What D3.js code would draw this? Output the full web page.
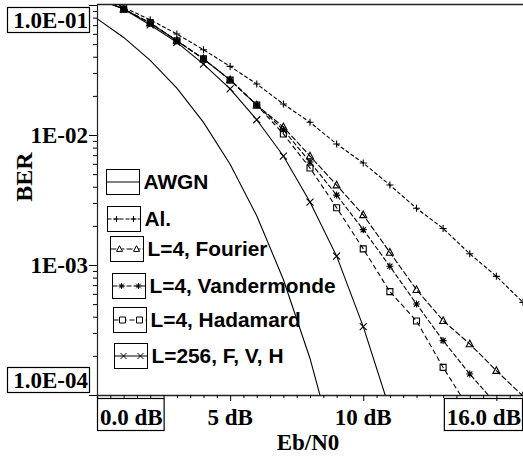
<html>
  <head>
    <meta charset="utf-8">
    <title>BER vs Eb/N0</title>
    <style>
      body { margin: 0; background: #fff; }
      .serif { font-family: 'Liberation Serif', 'Times New Roman', serif; font-weight: bold; }
      .sans { font-family: 'Liberation Sans', Arial, sans-serif; font-weight: bold; }
    </style>
  </head>
  <body>
    <script src="https://d3js.org/d3.v7.min.js"></script>
    <script>
      // Eb/N0 in dB, one point per dB
      var snr = [0, 1, 2, 3, 4, 5, 6, 7, 8, 9, 10, 11, 12, 13, 14, 15, 16];

      var awgn = [0.0786, 0.0563, 0.0375, 0.0229, 0.0125, 0.00595, 0.00239, 0.000773, 0.000191, 0.0000336];
      var al = [0.118, 0.0957, 0.0770, 0.0598, 0.0453, 0.0337, 0.0247, 0.0173, 0.01253, 0.00853,
                0.00609, 0.00412, 0.00273, 0.00191, 0.00122, 0.000818, 0.000516];
      var fourier = [0.113, 0.093, 0.0727, 0.0531, 0.0385, 0.0265, 0.0170, 0.01153, 0.00689, 0.00412,
                     0.00243, 0.00125, 0.000646, 0.000373, 0.000247, 0.000154, 0.000098];
      var vander = [0.113, 0.093, 0.0727, 0.0531, 0.0385, 0.0265, 0.0170, 0.01096, 0.00620, 0.00345,
                    0.00187, 0.000977, 0.000501, 0.000262, 0.000145, 0.000085];
      var hadamard = [0.113, 0.093, 0.0727, 0.0531, 0.0385, 0.0265, 0.0170, 0.01019, 0.00557, 0.00276,
                      0.00133, 0.000624, 0.000371, 0.000163, 0.000077];
      var l256 = [0.113, 0.093, 0.0702, 0.0516, 0.0351, 0.0226, 0.0131, 0.00689, 0.00305, 0.00117,
                  0.000336, 0.000077];

      var legendLabels = ["AWGN", "Al.", "L=4, Fourier", "L=4, Vandermonde", "L=4, Hadamard", "L=256, F, V, H"];
      var yTickLabels = ["1.0E-01", "1E-02", "1E-03", "1.0E-04"];
      var xTickLabels = ["0.0 dB", "5 dB", "10 dB", "16.0 dB"];

      var series = [
        { values: awgn, dash: null, marker: null },
        { values: al, dash: "4,2", marker: "plus" },
        { values: fourier, dash: "6,2", marker: "tri" },
        { values: vander, dash: "5,2", marker: "star" },
        { values: hadamard, dash: "5,3", marker: "square" },
        { values: l256, dash: null, marker: "cross" }
      ];

      var width = 523, height = 457;
      var pLeft = 97, pRight = 523, pTop = 5, pBottom = 395;

      var x = d3.scaleLinear().domain([0, 16]).range([pLeft, pRight]);
      var y = d3.scaleLog().domain([1e-4, 1e-1]).range([pBottom, pTop]);

      var svg = d3.select("body").append("svg")
        .attr("width", width)
        .attr("height", height);

      svg.append("defs").append("clipPath").attr("id", "plot")
        .append("rect")
        .attr("x", pLeft).attr("y", pTop)
        .attr("width", pRight - pLeft).attr("height", pBottom - pTop);

      // markers as path strings centred on 0,0
      function markerPath(type, s) {
        if (type == "plus") return "M" + (-s) + ",0H" + s + "M0," + (-s) + "V" + s;
        if (type == "cross") return "M" + (-s) + "," + (-s) + "L" + s + "," + s + "M" + (-s) + "," + s + "L" + s + "," + (-s);
        if (type == "star") {
          var d = s * 0.75;
          return "M" + (-s) + ",0H" + s + "M0," + (-s) + "V" + s +
            "M" + (-d) + "," + (-d) + "L" + d + "," + d + "M" + (-d) + "," + d + "L" + d + "," + (-d);
        }
        if (type == "square") return "M" + (-s) + "," + (-s) + "H" + s + "V" + s + "H" + (-s) + "Z";
        if (type == "tri") return "M0," + (-s * 1.1) + "L" + s + "," + s * 0.8 + "H" + (-s) + "Z";
        return "";
      }

      // axes
      var xAxis = d3.axisBottom(x)
        .tickValues(d3.range(0, 16.01, 0.5))
        .tickSize(3)
        .tickFormat("");
      svg.append("g")
        .attr("transform", "translate(0," + pBottom + ")")
        .call(xAxis)
        .call(function(g) {
          g.select(".domain").attr("stroke", "#222").attr("stroke-width", 1.5);
          g.selectAll(".tick line")
            .attr("y2", function(d) { return d % 5 == 0 ? 6 : 3; });
        });

      var yTicks = [];
      [1e-4, 1e-3, 1e-2].forEach(function(dec) {
        for (var k = 1; k < 10; k++) yTicks.push(dec * k);
      });
      yTicks.push(1e-1);
      var yAxis = d3.axisLeft(y)
        .tickValues(yTicks)
        .tickSize(4)
        .tickFormat("");
      svg.append("g")
        .attr("transform", "translate(" + pLeft + ",0)")
        .call(yAxis)
        .call(function(g) {
          g.select(".domain").attr("stroke", "#222").attr("stroke-width", 1.2);
          g.selectAll(".tick line")
            .attr("x2", function(d) {
              var m = d / Math.pow(10, Math.floor(Math.log10(d) + 1e-9));
              return Math.abs(m - 1) < 1e-6 ? -8 : -4;
            });
        });

      // top frame line
      svg.append("line")
        .attr("x1", pLeft).attr("x2", pRight)
        .attr("y1", pTop - 0.5).attr("y2", pTop - 0.5)
        .attr("stroke", "#222").attr("stroke-width", 1.5);

      // curves
      var plot = svg.append("g").attr("clip-path", "url(#plot)");
      var line = d3.line()
        .x(function(d, i) { return x(snr[i]); })
        .y(function(d) { return y(d); });

      series.forEach(function(s) {
        plot.append("path")
          .attr("d", line(s.values))
          .attr("fill", "none")
          .attr("stroke", "#000")
          .attr("stroke-width", 1.1)
          .attr("stroke-dasharray", s.dash);
        if (s.marker) {
          plot.selectAll(null)
            .data(s.values)
            .enter()
            .append("path")
            .attr("transform", function(d, i) { return "translate(" + x(snr[i]) + "," + y(d) + ")"; })
            .attr("d", markerPath(s.marker, s.marker == "square" ? 3 : 3.5))
            .attr("fill", "none")
            .attr("stroke", "#000")
            .attr("stroke-width", 1.1);
        }
      });

      // y tick labels, the end ones boxed
      var yLab = [
        { box: true, base: 28 },
        { box: false, base: y(1e-2) + 8 },
        { box: false, base: y(1e-3) + 8 },
        { box: true, base: 388 }
      ];
      yLab.forEach(function(l, i) {
        svg.append("text")
          .attr("class", "serif")
          .attr("x", 88)
          .attr("y", l.base)
          .attr("text-anchor", "end")
          .attr("font-size", 23)
          .text(yTickLabels[i]);
        if (l.box) {
          svg.append("rect")
            .attr("x", 7.5).attr("y", l.base - 20.5)
            .attr("width", 82).attr("height", 25)
            .attr("fill", "none").attr("stroke", "#000").attr("stroke-width", 1.2);
        }
      });

      // x tick labels
      var xLab = [
        { v: 0, anchor: "start", box: true },
        { v: 5, anchor: "middle", box: false },
        { v: 10, anchor: "middle", box: false },
        { v: 16, anchor: "end", box: true }
      ];
      xLab.forEach(function(l, i) {
        var px = l.anchor == "start" ? x(l.v) + 3 : (l.anchor == "end" ? x(l.v) - 2 : x(l.v));
        var t = svg.append("text")
          .attr("class", "serif")
          .attr("x", px)
          .attr("y", 425)
          .attr("text-anchor", l.anchor)
          .attr("font-size", 23)
          .text(xTickLabels[i]);
        if (l.box) {
          var b = t.node().getBBox();
          svg.append("rect")
            .attr("x", b.x - 2.5).attr("y", 398.5)
            .attr("width", b.width + 4).attr("height", 32)
            .attr("fill", "none").attr("stroke", "#000").attr("stroke-width", 1.2);
        }
      });

      // axis titles
      svg.append("text")
        .attr("class", "serif")
        .attr("x", 308)
        .attr("y", 450)
        .attr("text-anchor", "middle")
        .attr("font-size", 23)
        .text("Eb/N0");
      svg.append("text")
        .attr("class", "serif")
        .attr("transform", "translate(32,177) rotate(-90)")
        .attr("text-anchor", "middle")
        .attr("font-size", 24)
        .text("BER");

      // legend
      var legX = [106.5, 107.5, 110.5, 112.5, 113.5, 114.5];
      var legY = [169.5, 206.5, 236.5, 273.5, 307.5, 343.5];
      var legend = svg.append("g");
      series.forEach(function(s, i) {
        var g = legend.append("g").attr("transform", "translate(" + legX[i] + "," + legY[i] + ")");
        g.append("rect")
          .attr("width", 33).attr("height", 25)
          .attr("fill", "#fff").attr("stroke", "#000").attr("stroke-width", 1);
        g.append("line")
          .attr("x1", 0).attr("x2", 33)
          .attr("y1", 12.5).attr("y2", 12.5)
          .attr("stroke", "#000").attr("stroke-width", 1)
          .attr("stroke-dasharray", s.dash);
        if (s.marker) {
          [9, 26].forEach(function(mx) {
            g.append("path")
              .attr("transform", "translate(" + mx + ",12.5)")
              .attr("d", markerPath(s.marker, 3))
              .attr("fill", "#fff")
              .attr("stroke", "#000").attr("stroke-width", 1);
          });
        }
        // the original face is a little wider than Arial
        g.append("text")
          .attr("class", "sans")
          .attr("transform", "translate(37,19) scale(1.07,1)")
          .attr("font-size", 19.5)
          .text(legendLabels[i]);
      });
    </script>
  </body>
</html>
